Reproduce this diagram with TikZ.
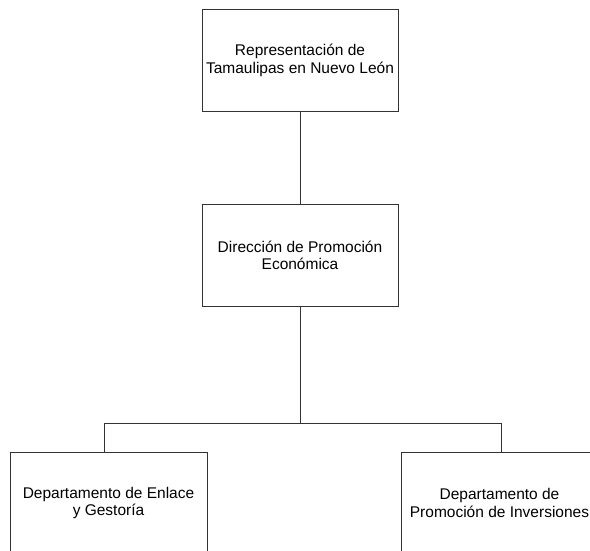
\documentclass[tikz,border=0pt]{standalone}
\usepackage{fontspec}
\setmainfont{Liberation Sans}
\tikzset{
    unitbox/.style={rectangle, draw=black!80, line width=0.9pt, minimum height=102pt,
        align=center, font=\fontsize{15.5}{17.5}\selectfont, inner sep=0pt},
    link/.style={draw=black!80, line width=0.9pt}
}
\begin{document}
\begin{tikzpicture}[x=1pt, y=-1pt]
            \useasboundingbox (0, 0) rectangle (590, 550);
            \clip (0, 0) rectangle (590, 550);

            \node (rep) at (300, 60.5) [unitbox, minimum width=196pt] {Representación de\\Tamaulipas en Nuevo León};
            \node (dir) at (300, 255.5) [unitbox, minimum width=196pt] {Dirección de Promoción\\Económica};
            \node (enl) at (108.5, 503) [unitbox, minimum width=197pt] {Departamento de Enlace\\y Gestoría};
            \node (inv) at (499.5, 503) [unitbox, minimum width=197pt] {Departamento de\\Promoción de Inversiones};

            \coordinate (bl) at (104, 423);
            \coordinate (br) at (501, 423);
            \draw[link] (rep) -- (dir);
            \draw[link] (dir.south) -- (dir.south |- bl);
            \draw[link] (bl) -- (br);
            \draw[link] (bl) -- (bl |- enl.north);
            \draw[link] (br) -- (br |- inv.north);

        \end{tikzpicture}
\end{document}
